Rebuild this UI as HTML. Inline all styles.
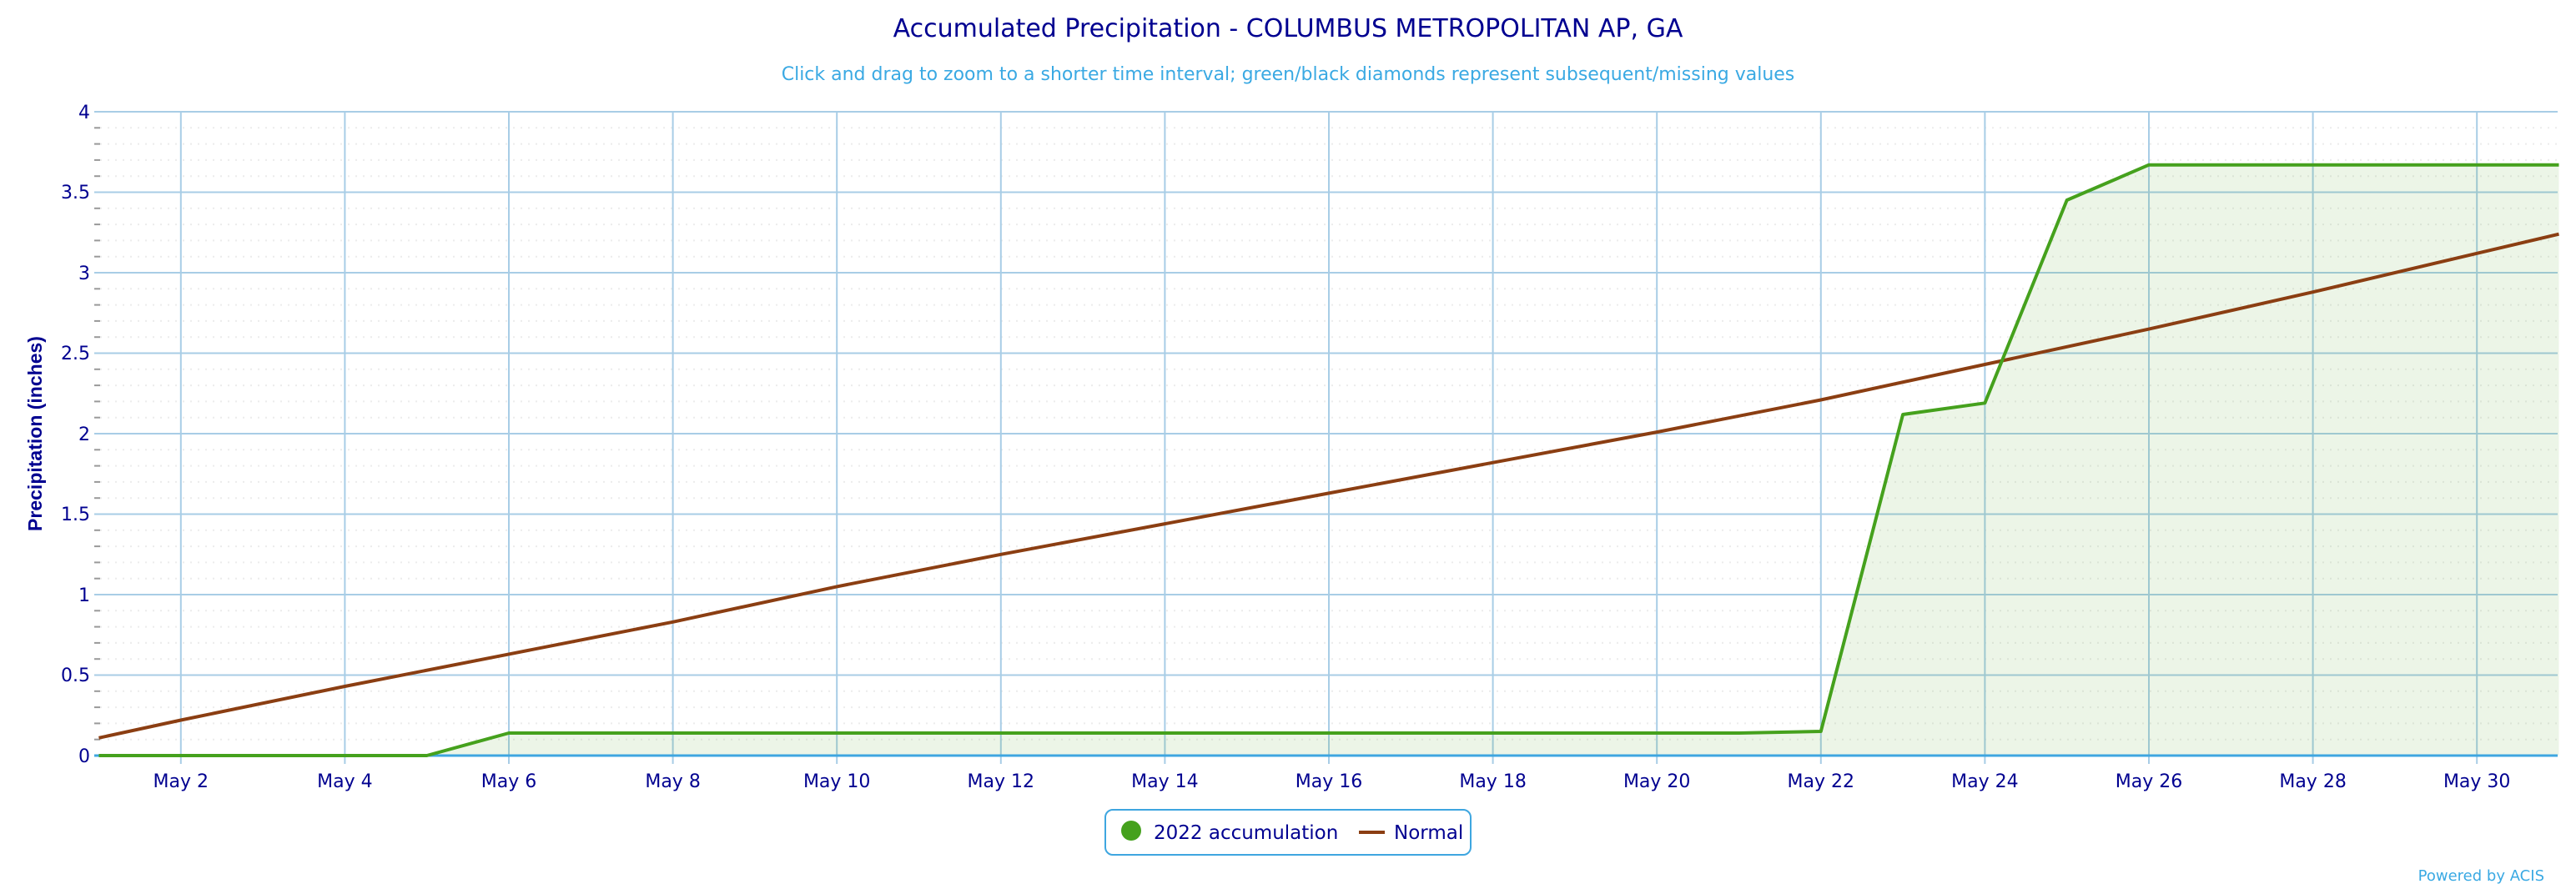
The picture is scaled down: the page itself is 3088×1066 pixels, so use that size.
<!DOCTYPE html>
<html><head><meta charset="utf-8"><style>
html,body{margin:0;padding:0;background:#fff;}
svg{display:block;font-family:"DejaVu Sans","Liberation Sans",sans-serif;}
</style></head><body>
<svg width="3088" height="1066" viewBox="0 0 3088 1066" xmlns="http://www.w3.org/2000/svg">
<rect width="3088" height="1066" fill="#fff"/>
<text x="1544" y="44" text-anchor="middle" font-size="30" fill="#000090">Accumulated Precipitation - COLUMBUS METROPOLITAN AP, GA</text>
<text x="1544" y="96" text-anchor="middle" font-size="22" fill="#3aa9e3">Click and drag to zoom to a shorter time interval; green/black diamonds represent subsequent/missing values</text>
<!-- minor dotted gridlines -->
<g stroke="#ececec" stroke-width="2" stroke-dasharray="2,7">
<line x1="120" x2="3066" y1="153.3" y2="153.3"/><line x1="120" x2="3066" y1="172.6" y2="172.6"/><line x1="120" x2="3066" y1="191.9" y2="191.9"/><line x1="120" x2="3066" y1="211.2" y2="211.2"/>
<line x1="120" x2="3066" y1="249.8" y2="249.8"/><line x1="120" x2="3066" y1="269.1" y2="269.1"/><line x1="120" x2="3066" y1="288.4" y2="288.4"/><line x1="120" x2="3066" y1="307.7" y2="307.7"/>
<line x1="120" x2="3066" y1="346.3" y2="346.3"/><line x1="120" x2="3066" y1="365.6" y2="365.6"/><line x1="120" x2="3066" y1="384.9" y2="384.9"/><line x1="120" x2="3066" y1="404.2" y2="404.2"/>
<line x1="120" x2="3066" y1="442.8" y2="442.8"/><line x1="120" x2="3066" y1="462.1" y2="462.1"/><line x1="120" x2="3066" y1="481.4" y2="481.4"/><line x1="120" x2="3066" y1="500.7" y2="500.7"/>
<line x1="120" x2="3066" y1="539.3" y2="539.3"/><line x1="120" x2="3066" y1="558.6" y2="558.6"/><line x1="120" x2="3066" y1="577.9" y2="577.9"/><line x1="120" x2="3066" y1="597.2" y2="597.2"/>
<line x1="120" x2="3066" y1="635.8" y2="635.8"/><line x1="120" x2="3066" y1="655.1" y2="655.1"/><line x1="120" x2="3066" y1="674.4" y2="674.4"/><line x1="120" x2="3066" y1="693.7" y2="693.7"/>
<line x1="120" x2="3066" y1="732.3" y2="732.3"/><line x1="120" x2="3066" y1="751.6" y2="751.6"/><line x1="120" x2="3066" y1="770.9" y2="770.9"/><line x1="120" x2="3066" y1="790.2" y2="790.2"/>
<line x1="120" x2="3066" y1="828.8" y2="828.8"/><line x1="120" x2="3066" y1="848.1" y2="848.1"/><line x1="120" x2="3066" y1="867.4" y2="867.4"/><line x1="120" x2="3066" y1="886.7" y2="886.7"/>
</g>
<!-- minor ticks -->
<g stroke="#999" stroke-width="2">
<line x1="113" x2="120" y1="153.3" y2="153.3"/><line x1="113" x2="120" y1="172.6" y2="172.6"/><line x1="113" x2="120" y1="191.9" y2="191.9"/><line x1="113" x2="120" y1="211.2" y2="211.2"/>
<line x1="113" x2="120" y1="249.8" y2="249.8"/><line x1="113" x2="120" y1="269.1" y2="269.1"/><line x1="113" x2="120" y1="288.4" y2="288.4"/><line x1="113" x2="120" y1="307.7" y2="307.7"/>
<line x1="113" x2="120" y1="346.3" y2="346.3"/><line x1="113" x2="120" y1="365.6" y2="365.6"/><line x1="113" x2="120" y1="384.9" y2="384.9"/><line x1="113" x2="120" y1="404.2" y2="404.2"/>
<line x1="113" x2="120" y1="442.8" y2="442.8"/><line x1="113" x2="120" y1="462.1" y2="462.1"/><line x1="113" x2="120" y1="481.4" y2="481.4"/><line x1="113" x2="120" y1="500.7" y2="500.7"/>
<line x1="113" x2="120" y1="539.3" y2="539.3"/><line x1="113" x2="120" y1="558.6" y2="558.6"/><line x1="113" x2="120" y1="577.9" y2="577.9"/><line x1="113" x2="120" y1="597.2" y2="597.2"/>
<line x1="113" x2="120" y1="635.8" y2="635.8"/><line x1="113" x2="120" y1="655.1" y2="655.1"/><line x1="113" x2="120" y1="674.4" y2="674.4"/><line x1="113" x2="120" y1="693.7" y2="693.7"/>
<line x1="113" x2="120" y1="732.3" y2="732.3"/><line x1="113" x2="120" y1="751.6" y2="751.6"/><line x1="113" x2="120" y1="770.9" y2="770.9"/><line x1="113" x2="120" y1="790.2" y2="790.2"/>
<line x1="113" x2="120" y1="828.8" y2="828.8"/><line x1="113" x2="120" y1="848.1" y2="848.1"/><line x1="113" x2="120" y1="867.4" y2="867.4"/><line x1="113" x2="120" y1="886.7" y2="886.7"/>
</g>
<!-- major horizontal -->
<g stroke="#a8cde6" stroke-width="2">
<line x1="113" x2="3066" y1="134" y2="134"/><line x1="113" x2="3066" y1="230.5" y2="230.5"/><line x1="113" x2="3066" y1="327" y2="327"/><line x1="113" x2="3066" y1="423.5" y2="423.5"/><line x1="113" x2="3066" y1="520" y2="520"/><line x1="113" x2="3066" y1="616.5" y2="616.5"/><line x1="113" x2="3066" y1="713" y2="713"/><line x1="113" x2="3066" y1="809.5" y2="809.5"/>
</g>
<!-- vertical -->
<g stroke="#a8cde6" stroke-width="2">
<line x1="216.8" x2="216.8" y1="134" y2="916"/><line x1="413.4" x2="413.4" y1="134" y2="916"/><line x1="610" x2="610" y1="134" y2="916"/><line x1="806.6" x2="806.6" y1="134" y2="916"/><line x1="1003.2" x2="1003.2" y1="134" y2="916"/><line x1="1199.8" x2="1199.8" y1="134" y2="916"/><line x1="1396.4" x2="1396.4" y1="134" y2="916"/><line x1="1593" x2="1593" y1="134" y2="916"/><line x1="1789.6" x2="1789.6" y1="134" y2="916"/><line x1="1986.2" x2="1986.2" y1="134" y2="916"/><line x1="2182.8" x2="2182.8" y1="134" y2="916"/><line x1="2379.4" x2="2379.4" y1="134" y2="916"/><line x1="2576" x2="2576" y1="134" y2="916"/><line x1="2772.6" x2="2772.6" y1="134" y2="916"/><line x1="2969.2" x2="2969.2" y1="134" y2="916"/>
</g>
<!-- area -->
<polygon fill="rgba(80,160,40,0.11)" points="118.5,906 511.7,906 610,879 2084.5,879 2182.8,877 2281.1,497 2379.4,483.3 2477.7,240 2576,197.7 3067.5,197.7 3067.5,906"/>
<line x1="113" x2="3066" y1="906" y2="906" stroke="#3ea6e0" stroke-width="3"/>
<polyline fill="none" stroke="#8b3e12" stroke-width="4" stroke-linejoin="round" points="118.5,884.8 216.8,863.5 413.4,823 610,784.4 806.6,745.8 1003.2,703.4 1199.8,664.8 1396.4,628.1 1593,591.4 1789.6,554.7 1986.2,518.1 2182.8,479.5 2379.4,437 2576,394.6 2772.6,350.2 2969.2,303.8 3067.5,280.7"/>
<polyline fill="none" stroke="#45a11d" stroke-width="4" stroke-linejoin="round" points="118.5,906 511.7,906 610,879 2084.5,879 2182.8,877 2281.1,497 2379.4,483.3 2477.7,240 2576,197.7 3067.5,197.7"/>
<!-- y labels -->
<g font-size="22" fill="#000090" text-anchor="end">
<text x="108" y="142">4</text><text x="108" y="238">3.5</text><text x="108" y="335">3</text><text x="108" y="431">2.5</text><text x="108" y="528">2</text><text x="108" y="624">1.5</text><text x="108" y="721">1</text><text x="108" y="817">0.5</text><text x="108" y="914">0</text>
</g>
<text transform="translate(50,520) rotate(-90)" text-anchor="middle" font-size="23" font-weight="bold" fill="#000090" font-family="Liberation Sans, sans-serif">Precipitation (inches)</text>
<!-- x labels -->
<g font-size="22" fill="#000090" text-anchor="middle">
<text x="216.8" y="944">May 2</text><text x="413.4" y="944">May 4</text><text x="610" y="944">May 6</text><text x="806.6" y="944">May 8</text><text x="1003.2" y="944">May 10</text><text x="1199.8" y="944">May 12</text><text x="1396.4" y="944">May 14</text><text x="1593" y="944">May 16</text><text x="1789.6" y="944">May 18</text><text x="1986.2" y="944">May 20</text><text x="2182.8" y="944">May 22</text><text x="2379.4" y="944">May 24</text><text x="2576" y="944">May 26</text><text x="2772.6" y="944">May 28</text><text x="2969.2" y="944">May 30</text>
</g>
<!-- legend -->
<rect x="1325" y="971" width="438" height="54" rx="9" fill="#fff" stroke="#3ea6e0" stroke-width="2"/>
<circle cx="1356" cy="996" r="12" fill="#45a11d"/>
<text x="1383" y="1006" font-size="23" fill="#000090">2022 accumulation</text>
<line x1="1629" x2="1660" y1="998" y2="998" stroke="#8b3e12" stroke-width="4"/>
<text x="1671" y="1006" font-size="23" fill="#000090">Normal</text>
<text x="3050" y="1056" text-anchor="end" font-size="18" fill="#3aa9e3">Powered by ACIS</text>
</svg>
</body></html>
